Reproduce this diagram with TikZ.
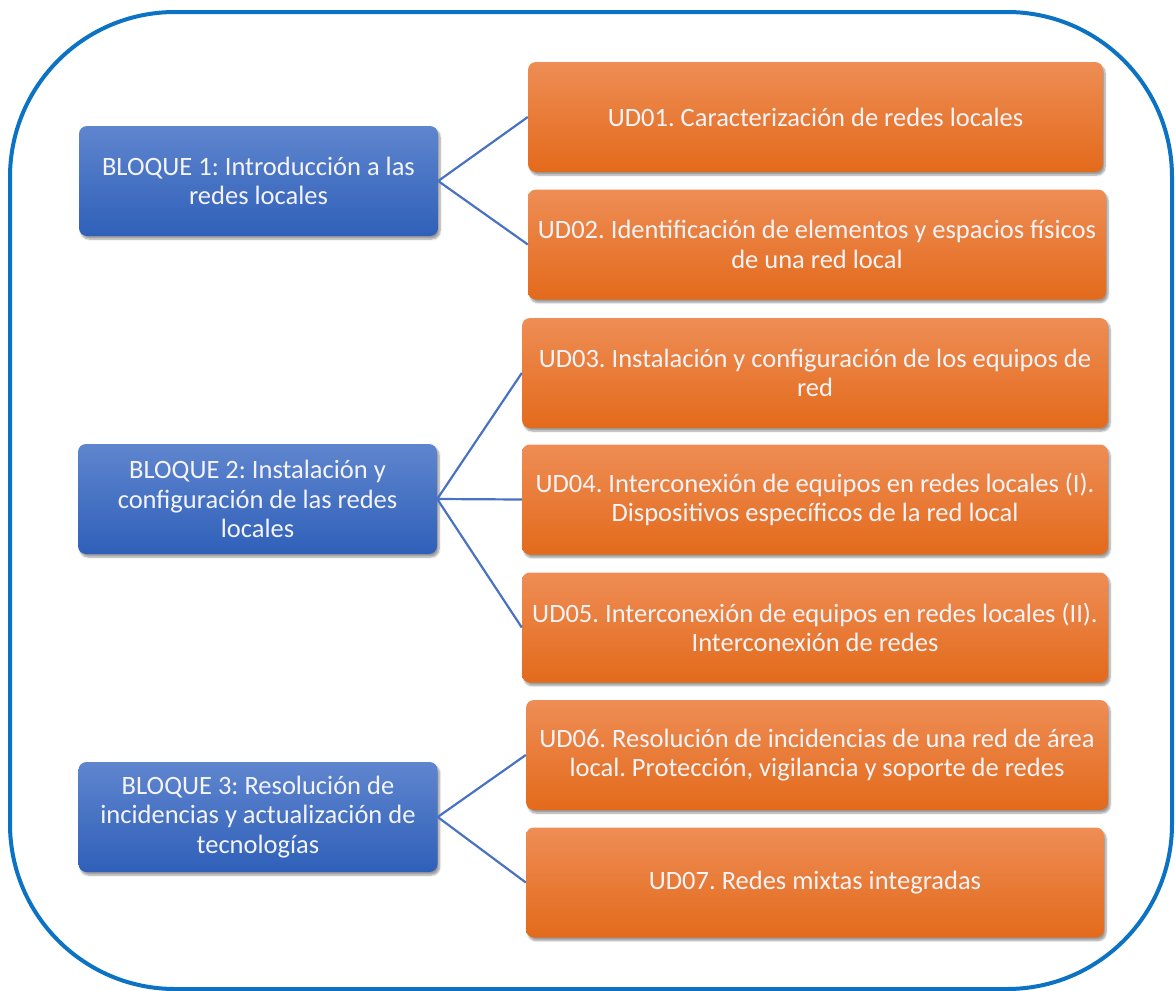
\documentclass[tikz,border=0pt]{standalone}
\usepackage{fontspec}
\setmainfont{Carlito}
\usetikzlibrary{shadows.blur}
\definecolor{frameblue}{HTML}{0B72C4}
\definecolor{linkblue}{HTML}{4A72C2}
\definecolor{bluetop}{HTML}{5F85CE}
\definecolor{bluebot}{HTML}{2F60B9}
\definecolor{orangetop}{HTML}{EE8D55}
\definecolor{orangemid}{HTML}{F07B2B}
\definecolor{orangebot}{HTML}{E36A1B}
\definecolor{boxtext}{HTML}{F4F4F8}
\begin{document}
\frenchspacing
\begin{tikzpicture}[x=1pt,y=-1pt,
  box/.style={rounded corners=8pt, text=boxtext, align=center, inner sep=0pt,
    font=\fontsize{26.5}{29.5}\selectfont,
    blur shadow={shadow xshift=2pt, shadow yshift=-3pt, shadow blur steps=6, shadow opacity=40}},
  bloque/.style={box, top color=bluetop, bottom color=bluebot,
    minimum width=359pt, minimum height=110pt},
  unidad/.style={box, top color=orangetop, middle color=orangemid, bottom color=orangebot,
    minimum height=110pt},
  link/.style={draw=linkblue, line width=2.2pt}]
\useasboundingbox (0,0) rectangle (1176,991);

% outer frame
\draw[frameblue, line width=4pt, rounded corners=165pt] (10,12) rectangle (1172,989);

% blocks
\node[bloque] (b1) at (258.5,181) {BLOQUE 1: Introducción a las\\redes locales};
\node[bloque] (b2) at (257.5,499) {BLOQUE 2: Instalación y\\configuración de las redes\\locales};
\node[bloque] (b3) at (258,817) {BLOQUE 3: Resolución de\\incidencias y actualización de\\tecnologías};

% units
\node[unidad, minimum width=575pt] (u1) at (815.5,117) {UD01. Caracterización de redes locales};
\node[unidad, minimum width=578pt] (u2) at (817,244.5) {UD02. Identificación de elementos y espacios físicos\\de una red local};
\node[unidad, minimum width=586pt] (u3) at (815,373) {UD03. Instalación y configuración de los equipos de\\red};
\node[unidad, minimum width=586pt] (u4) at (815,499.5) {UD04. Interconexión de equipos en redes locales (I).\\Dispositivos específicos de la red local};
\node[unidad, minimum width=586pt] (u5) at (815,627.5) {UD05. Interconexión de equipos en redes locales (II).\\Interconexión de redes};
\node[unidad, minimum width=582pt] (u6) at (817,755) {UD06. Resolución de incidencias de una red de área\\local. Protección, vigilancia y soporte de redes};
\node[unidad, minimum width=578pt] (u7) at (815,882.5) {UD07. Redes mixtas integradas};

% connectors
\draw[link] (b1.east) -- (u1.west);
\draw[link] (b1.east) -- (u2.west);
\draw[link] (b2.east) -- (u3.west);
\draw[link] (b2.east) -- (u4.west);
\draw[link] (b2.east) -- (u5.west);
\draw[link] (b3.east) -- (u6.west);
\draw[link] (b3.east) -- (u7.west);
\end{tikzpicture}
\end{document}
